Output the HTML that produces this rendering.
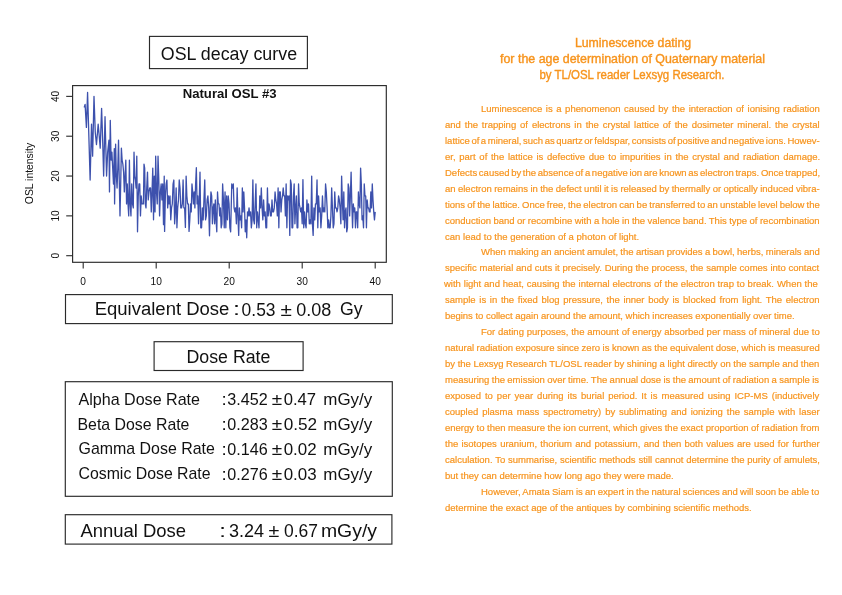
<!DOCTYPE html>
<html><head><meta charset="utf-8"><style>
html,body{margin:0;padding:0;background:#fff;}
body{width:842px;height:595px;position:relative;overflow:hidden;font-family:"Liberation Sans", sans-serif;}
svg{position:absolute;left:0;top:0;will-change:transform;}
.bw{position:absolute;left:0;top:0;width:842px;height:595px;will-change:transform;}
svg text{font-family:"Liberation Sans", sans-serif;}
.b{position:absolute;white-space:nowrap;-webkit-text-stroke:0.2px #f7941d;font-size:9.5px;line-height:9.5px;color:#f7941d;}
</style></head><body>
<svg width="842" height="595" viewBox="0 0 842 595">
<rect x="149.5" y="36.4" width="157.9" height="32.2" fill="none" stroke="#2a2a2a" stroke-width="1.15"/>
<rect x="65.5" y="294.6" width="326.8" height="29.0" fill="none" stroke="#2a2a2a" stroke-width="1.15"/>
<rect x="154.1" y="341.7" width="149.0" height="28.8" fill="none" stroke="#2a2a2a" stroke-width="1.15"/>
<rect x="65.3" y="381.7" width="327.0" height="114.6" fill="none" stroke="#2a2a2a" stroke-width="1.15"/>
<rect x="65.3" y="514.7" width="326.6" height="29.4" fill="none" stroke="#2a2a2a" stroke-width="1.15"/>
<rect x="72.6" y="85.6" width="313.7" height="176.7" fill="none" stroke="#2a2a2a" stroke-width="1.15"/>
<line x1="66.2" y1="255.70" x2="72.6" y2="255.70" stroke="#2a2a2a" stroke-width="1.1"/>
<text transform="translate(59.2,255.70) rotate(-90)" text-anchor="middle" font-size="10.2" fill="#111">0</text>
<line x1="83.20" y1="262.3" x2="83.20" y2="268.5" stroke="#2a2a2a" stroke-width="1.1"/>
<text x="83.20" y="284.8" text-anchor="middle" font-size="10.2" fill="#111">0</text>
<line x1="66.2" y1="215.87" x2="72.6" y2="215.87" stroke="#2a2a2a" stroke-width="1.1"/>
<text transform="translate(59.2,215.87) rotate(-90)" text-anchor="middle" font-size="10.2" fill="#111">10</text>
<line x1="156.20" y1="262.3" x2="156.20" y2="268.5" stroke="#2a2a2a" stroke-width="1.1"/>
<text x="156.20" y="284.8" text-anchor="middle" font-size="10.2" fill="#111">10</text>
<line x1="66.2" y1="176.04" x2="72.6" y2="176.04" stroke="#2a2a2a" stroke-width="1.1"/>
<text transform="translate(59.2,176.04) rotate(-90)" text-anchor="middle" font-size="10.2" fill="#111">20</text>
<line x1="229.20" y1="262.3" x2="229.20" y2="268.5" stroke="#2a2a2a" stroke-width="1.1"/>
<text x="229.20" y="284.8" text-anchor="middle" font-size="10.2" fill="#111">20</text>
<line x1="66.2" y1="136.21" x2="72.6" y2="136.21" stroke="#2a2a2a" stroke-width="1.1"/>
<text transform="translate(59.2,136.21) rotate(-90)" text-anchor="middle" font-size="10.2" fill="#111">30</text>
<line x1="302.20" y1="262.3" x2="302.20" y2="268.5" stroke="#2a2a2a" stroke-width="1.1"/>
<text x="302.20" y="284.8" text-anchor="middle" font-size="10.2" fill="#111">30</text>
<line x1="66.2" y1="96.38" x2="72.6" y2="96.38" stroke="#2a2a2a" stroke-width="1.1"/>
<text transform="translate(59.2,96.38) rotate(-90)" text-anchor="middle" font-size="10.2" fill="#111">40</text>
<line x1="375.20" y1="262.3" x2="375.20" y2="268.5" stroke="#2a2a2a" stroke-width="1.1"/>
<text x="375.20" y="284.8" text-anchor="middle" font-size="10.2" fill="#111">40</text>
<text transform="translate(32.9,173.5) rotate(-90)" text-anchor="middle" font-size="10.4" fill="#111">OSL intensity</text>
<polyline points="84.22,107.53 85.10,104.35 86.41,127.45 87.58,92.40 90.14,180.02 91.52,124.26 92.62,156.12 94.00,96.38 95.25,132.23 96.49,144.57 98.17,124.26 99.26,136.21 100.21,148.16 101.60,108.33 102.55,136.21 103.64,176.04 105.03,116.69 106.56,176.04 107.66,152.14 108.97,140.19 109.48,191.97 110.28,120.28 111.09,160.11 111.89,152.14 112.69,168.07 113.50,184.01 114.30,148.56 114.59,203.92 115.61,144.18 116.34,176.04 117.07,187.99 117.80,168.07 118.53,140.19 119.26,180.02 119.99,215.87 120.69,184.01 121.38,148.16 122.12,160.11 122.86,164.09 123.59,172.06 124.33,191.97 125.07,176.04 125.81,160.11 126.55,203.92 127.28,184.01 128.02,203.92 128.72,215.87 129.41,160.11 130.18,203.92 130.96,215.87 131.73,184.01 132.50,203.92 133.28,207.90 134.01,152.14 134.70,176.04 135.40,180.02 136.09,187.99 136.78,156.12 137.52,231.80 138.26,195.95 139.00,184.01 139.73,184.01 140.47,215.87 141.21,195.95 141.95,203.92 142.69,203.92 143.43,203.92 144.01,164.09 144.67,168.07 145.32,203.92 145.98,207.90 146.73,187.99 147.49,172.06 148.24,199.94 149.00,191.97 149.75,187.99 150.51,187.99 151.26,211.89 152.01,191.97 152.77,168.07 153.52,219.85 154.28,176.04 155.03,211.89 155.69,156.12 156.47,191.97 157.25,203.92 158.03,156.12 158.81,180.02 159.59,215.87 160.38,191.97 161.16,184.01 161.94,199.94 162.72,184.01 163.50,224.63 164.23,176.04 164.59,231.40 165.37,195.95 166.14,184.01 166.91,180.02 167.68,207.90 168.45,195.95 169.22,203.92 169.99,195.95 170.76,219.85 171.53,207.90 172.30,203.92 173.07,184.01 173.84,180.02 174.61,223.84 175.38,211.89 176.15,187.99 176.92,227.82 177.69,207.90 178.47,199.94 179.24,180.02 180.01,187.99 180.78,207.90 181.55,207.90 182.32,203.92 183.09,180.02 183.86,207.90 184.63,207.90 185.40,227.42 186.13,176.04 186.86,195.95 187.59,203.92 188.32,203.92 189.05,231.40 189.78,219.85 190.51,203.92 191.24,211.89 191.97,184.01 192.70,191.97 193.43,203.92 194.16,191.97 194.89,207.90 195.62,184.01 196.35,167.68 197.08,203.92 197.81,195.95 198.54,223.84 199.27,199.94 200.00,172.06 200.79,227.82 201.58,227.82 202.37,207.90 203.16,219.85 203.95,199.94 204.75,180.02 205.54,219.85 206.33,215.87 207.12,199.94 207.91,195.95 208.70,207.90 209.49,235.78 210.22,207.90 210.95,191.97 211.68,195.95 212.41,223.84 213.14,207.90 213.87,203.92 214.60,223.84 215.33,199.94 216.06,219.85 216.79,231.80 217.52,191.97 218.25,203.92 218.98,203.92 219.71,215.87 220.44,207.90 221.17,227.82 221.90,223.84 222.63,184.01 223.43,199.94 224.24,227.82 225.04,191.97 225.84,227.82 226.64,195.95 227.45,219.85 228.25,195.95 229.05,203.92 229.86,227.82 230.66,231.80 231.75,184.01 232.53,187.99 233.30,184.01 234.07,207.90 234.84,211.89 235.61,207.90 236.38,223.84 237.15,187.99 237.92,215.87 238.69,235.39 239.42,207.90 240.15,219.85 240.88,215.87 241.61,227.82 242.34,187.99 243.07,211.89 243.80,191.97 244.53,207.90 245.26,231.80 245.99,219.85 246.72,237.78 247.49,211.89 248.26,215.87 249.03,207.90 249.79,215.87 250.56,211.89 251.33,227.82 252.10,219.85 252.87,180.02 253.64,219.85 254.40,223.84 255.17,203.92 255.94,184.01 256.71,227.82 257.48,211.89 258.25,219.85 259.01,227.82 259.78,195.95 260.55,207.90 261.32,187.99 262.08,207.90 262.85,219.85 263.61,199.94 264.37,215.87 265.14,211.89 265.90,227.82 266.66,227.82 267.43,187.99 268.19,215.87 268.95,203.92 269.71,207.90 270.48,215.87 271.24,215.87 272.00,199.94 272.77,211.89 273.53,211.89 274.29,207.90 275.06,191.97 275.82,199.94 276.58,203.92 277.35,215.87 278.11,187.99 278.84,227.82 279.57,191.97 280.30,191.97 281.03,211.89 281.76,199.94 282.49,195.95 283.22,187.99 283.95,195.95 284.68,195.95 285.41,215.87 286.14,184.01 286.87,227.82 287.60,195.95 288.33,199.94 289.06,195.95 289.79,235.39 290.52,180.02 291.25,184.01 291.98,227.82 292.71,227.82 293.44,195.95 294.17,184.01 294.90,223.84 295.63,207.90 296.36,195.95 297.09,227.82 297.82,227.82 298.55,184.01 299.28,203.92 300.01,207.90 300.74,211.89 301.47,207.90 302.20,223.84 302.93,179.62 303.73,227.82 304.52,211.89 305.32,223.84 306.12,227.82 306.91,199.94 307.71,211.89 308.50,203.92 309.30,223.84 310.10,219.85 310.89,223.84 311.69,176.04 312.42,223.84 313.15,235.39 313.93,207.90 314.70,219.85 315.48,203.92 316.25,203.92 317.03,180.02 317.80,227.82 318.58,195.95 319.36,211.89 320.13,207.90 320.91,227.82 321.68,215.87 322.46,195.95 323.23,211.89 324.01,207.90 324.78,211.89 325.56,184.01 326.32,191.97 327.09,207.90 327.85,227.82 328.62,219.85 329.38,227.82 330.15,227.82 330.91,215.87 331.68,187.99 332.44,207.90 333.21,227.82 333.97,223.84 334.74,191.97 335.50,207.90 336.27,207.90 337.03,211.89 337.80,207.90 338.56,195.95 339.33,199.94 340.09,207.90 340.86,223.84 341.62,176.04 342.35,199.94 343.08,219.85 343.81,191.97 344.54,227.82 345.27,211.89 346.00,207.90 346.73,231.80 347.46,227.82 348.19,184.01 348.92,187.99 349.65,215.87 350.38,195.95 351.11,172.06 351.84,203.92 352.57,227.82 353.30,203.92 354.03,211.89 354.76,207.90 355.49,227.82 356.22,211.89 356.95,211.89 357.68,227.82 358.41,191.97 359.14,203.92 359.87,207.90 360.60,168.07 361.33,184.01 362.06,219.85 362.79,215.87 363.52,227.82 364.25,184.01 364.98,195.95 365.71,195.95 366.44,227.82 367.17,199.94 367.90,207.90 368.63,207.90 369.36,211.89 370.09,211.89 370.82,191.97 371.55,207.90 372.28,184.01 373.01,199.94 373.74,211.89 374.47,219.85 375.20,211.89" fill="none" stroke="#3d51ad" stroke-width="1.3" stroke-linejoin="round"/>
<text transform="translate(160.80,60.30) scale(0.9498,1)" font-size="18.8" font-weight="400" fill="#111">OSL decay curve</text>
<text transform="translate(182.70,97.60) scale(1.0777,1)" font-size="12.2" font-weight="700" fill="#111">Natural OSL #3</text>
<text transform="translate(94.67,314.50) scale(1.0279,1)" font-size="18.0" font-weight="400" fill="#111">Equivalent Dose</text>
<text transform="translate(233.10,314.50) scale(1.4000,1)" font-size="18.0" font-weight="400" fill="#111">:</text>
<text transform="translate(241.60,316.00) scale(0.9580,1)" font-size="18.2" font-weight="400" fill="#111">0.53</text>
<text transform="translate(280.50,316.00) scale(1.1400,1)" font-size="18.2" font-weight="400" fill="#111">±</text>
<text transform="translate(296.20,316.00) scale(0.9891,1)" font-size="18.2" font-weight="400" fill="#111">0.08</text>
<text transform="translate(340.10,314.50) scale(0.9826,1)" font-size="18.0" font-weight="400" fill="#111">Gy</text>
<text transform="translate(186.50,362.70) scale(0.9986,1)" font-size="17.8" font-weight="400" fill="#111">Dose Rate</text>
<text transform="translate(80.40,536.60) scale(1.0040,1)" font-size="18.4" font-weight="400" fill="#111">Annual Dose</text>
<text transform="translate(219.30,536.60) scale(1.3000,1)" font-size="18.4" font-weight="400" fill="#111">:</text>
<text transform="translate(229.00,537.00) scale(0.9813,1)" font-size="18.4" font-weight="400" fill="#111">3.24</text>
<text transform="translate(268.60,537.00) scale(1.0700,1)" font-size="18.4" font-weight="400" fill="#111">±</text>
<text transform="translate(284.00,537.00) scale(0.9504,1)" font-size="18.4" font-weight="400" fill="#111">0.67</text>
<text transform="translate(320.94,537.00) scale(1.0561,1)" font-size="18.4" font-weight="400" fill="#111">mGy/y</text>
<text transform="translate(78.50,404.70) scale(0.9687,1)" font-size="16.6" font-weight="400" fill="#111">Alpha Dose Rate</text>
<text transform="translate(221.57,405.00) scale(1.1333,1)" font-size="16.6" font-weight="400" fill="#111">:</text>
<text transform="translate(227.20,405.20) scale(0.9735,1)" font-size="16.6" font-weight="400" fill="#111">3.452</text>
<text transform="translate(271.80,405.20) scale(1.1444,1)" font-size="16.6" font-weight="400" fill="#111">±</text>
<text transform="translate(283.70,405.20) scale(1.0041,1)" font-size="16.6" font-weight="400" fill="#111">0.47</text>
<text transform="translate(323.28,405.20) scale(1.0223,1)" font-size="16.6" font-weight="400" fill="#111">mGy/y</text>
<text transform="translate(77.54,429.50) scale(0.9559,1)" font-size="16.6" font-weight="400" fill="#111">Beta Dose Rate</text>
<text transform="translate(221.57,429.80) scale(1.1333,1)" font-size="16.6" font-weight="400" fill="#111">:</text>
<text transform="translate(227.20,430.00) scale(0.9735,1)" font-size="16.6" font-weight="400" fill="#111">0.283</text>
<text transform="translate(271.80,430.00) scale(1.1444,1)" font-size="16.6" font-weight="400" fill="#111">±</text>
<text transform="translate(283.70,430.00) scale(1.0353,1)" font-size="16.6" font-weight="400" fill="#111">0.52</text>
<text transform="translate(323.28,430.00) scale(1.0223,1)" font-size="16.6" font-weight="400" fill="#111">mGy/y</text>
<text transform="translate(78.50,454.30) scale(0.9599,1)" font-size="16.6" font-weight="400" fill="#111">Gamma Dose Rate</text>
<text transform="translate(221.57,454.60) scale(1.1333,1)" font-size="16.6" font-weight="400" fill="#111">:</text>
<text transform="translate(227.20,454.80) scale(0.9735,1)" font-size="16.6" font-weight="400" fill="#111">0.146</text>
<text transform="translate(271.80,454.80) scale(1.1444,1)" font-size="16.6" font-weight="400" fill="#111">±</text>
<text transform="translate(283.70,454.80) scale(1.0197,1)" font-size="16.6" font-weight="400" fill="#111">0.02</text>
<text transform="translate(323.28,454.80) scale(1.0223,1)" font-size="16.6" font-weight="400" fill="#111">mGy/y</text>
<text transform="translate(78.50,479.30) scale(0.9551,1)" font-size="16.6" font-weight="400" fill="#111">Cosmic Dose Rate</text>
<text transform="translate(221.57,479.60) scale(1.1333,1)" font-size="16.6" font-weight="400" fill="#111">:</text>
<text transform="translate(227.20,479.80) scale(0.9735,1)" font-size="16.6" font-weight="400" fill="#111">0.276</text>
<text transform="translate(271.80,479.80) scale(1.1444,1)" font-size="16.6" font-weight="400" fill="#111">±</text>
<text transform="translate(283.70,479.80) scale(1.0197,1)" font-size="16.6" font-weight="400" fill="#111">0.03</text>
<text transform="translate(323.28,479.80) scale(1.0223,1)" font-size="16.6" font-weight="400" fill="#111">mGy/y</text>
<text transform="translate(574.90,47.40) scale(1.0254,1)" font-size="12.0" font-weight="400" fill="#f7941d" stroke="#f7941d" stroke-width="0.38">Luminescence dating</text>
<text transform="translate(500.00,63.00) scale(1.0357,1)" font-size="12.0" font-weight="400" fill="#f7941d" stroke="#f7941d" stroke-width="0.38">for the age determination of Quaternary material</text>
<text transform="translate(539.50,78.80) scale(0.9541,1)" font-size="12.0" font-weight="400" fill="#f7941d" stroke="#f7941d" stroke-width="0.38">by TL/OSL reader Lexsyg Research.</text>
</svg>
<div class="bw">
<div class="b" style="left:481.00px;top:103.76px;word-spacing:0.924px">Luminescence is a phenomenon caused by the interaction of ionising radiation</div>
<div class="b" style="left:445.00px;top:119.73px;word-spacing:1.261px">and the trapping of electrons in the crystal lattice of the dosimeter mineral. the crystal</div>
<div class="b" style="left:445.00px;top:135.70px;word-spacing:-1.073px">lattice of a mineral, such as quartz or feldspar, consists of positive and negative ions. Howev-</div>
<div class="b" style="left:445.00px;top:151.67px;word-spacing:1.070px">er, part of the lattice is defective due to impurities in the crystal and radiation damage.</div>
<div class="b" style="left:445.00px;top:167.64px;word-spacing:-0.973px">Defects caused by the absence of a negative ion are known as electron traps. Once trapped,</div>
<div class="b" style="left:445.00px;top:183.61px;word-spacing:-0.227px">an electron remains in the defect until it is released by thermally or optically induced vibra-</div>
<div class="b" style="left:445.00px;top:199.58px;word-spacing:-0.538px">tions of the lattice. Once free, the electron can be transferred to an unstable level below the</div>
<div class="b" style="left:445.00px;top:215.55px;word-spacing:-0.201px">conduction band or recombine with a hole in the valence band. This type of recombination</div>
<div class="b" style="left:445.00px;top:231.52px;letter-spacing:0.018px">can lead to the generation of a photon of light.</div>
<div class="b" style="left:481.00px;top:247.49px;word-spacing:-0.327px">When making an ancient amulet, the artisan provides a bowl, herbs, minerals and</div>
<div class="b" style="left:445.00px;top:263.46px;word-spacing:0.159px">specific material and cuts it precisely. During the process, the sample comes into contact</div>
<div class="b" style="left:444.00px;top:279.43px;word-spacing:0.239px">with light and heat, causing the internal electrons of the electron trap to break. When the</div>
<div class="b" style="left:445.00px;top:295.40px;word-spacing:1.047px">sample is in the fixed blog pressure, the inner body is blocked from light. The electron</div>
<div class="b" style="left:445.00px;top:311.37px;letter-spacing:-0.026px">begins to collect again around the amount, which increases exponentially over time.</div>
<div class="b" style="left:481.00px;top:327.34px;word-spacing:0.144px">For dating purposes, the amount of energy absorbed per mass of mineral due to</div>
<div class="b" style="left:445.00px;top:343.31px;word-spacing:-0.174px">natural radiation exposure since zero is known as the equivalent dose, which is measured</div>
<div class="b" style="left:445.00px;top:359.28px;word-spacing:-0.045px">by the Lexsyg Research TL/OSL reader by shining a light directly on the sample and then</div>
<div class="b" style="left:445.00px;top:375.25px;word-spacing:-0.256px">measuring the emission over time. The annual dose is the amount of radiation a sample is</div>
<div class="b" style="left:445.00px;top:391.22px;word-spacing:1.372px">exposed to per year during its burial period. It is measured using ICP-MS (inductively</div>
<div class="b" style="left:445.00px;top:407.19px;word-spacing:1.227px">coupled plasma mass spectrometry) by sublimating and ionizing the sample with laser</div>
<div class="b" style="left:445.00px;top:423.16px;word-spacing:-0.112px">energy to then measure the ion current, which gives the exact proportion of radiation from</div>
<div class="b" style="left:445.00px;top:439.13px;word-spacing:0.629px">the isotopes uranium, thorium and potassium, and then both values are used for further</div>
<div class="b" style="left:445.00px;top:455.10px;word-spacing:0.167px">calculation. To summarise, scientific methods still cannot determine the purity of amulets,</div>
<div class="b" style="left:445.00px;top:471.07px;letter-spacing:0.001px">but they can determine how long ago they were made.</div>
<div class="b" style="left:481.00px;top:487.04px;word-spacing:-0.403px">However, Amata Siam is an expert in the natural sciences and will soon be able to</div>
<div class="b" style="left:445.00px;top:503.01px;letter-spacing:0.005px">determine the exact age of the antiques by combining scientific methods.</div>
</div>
</body></html>
